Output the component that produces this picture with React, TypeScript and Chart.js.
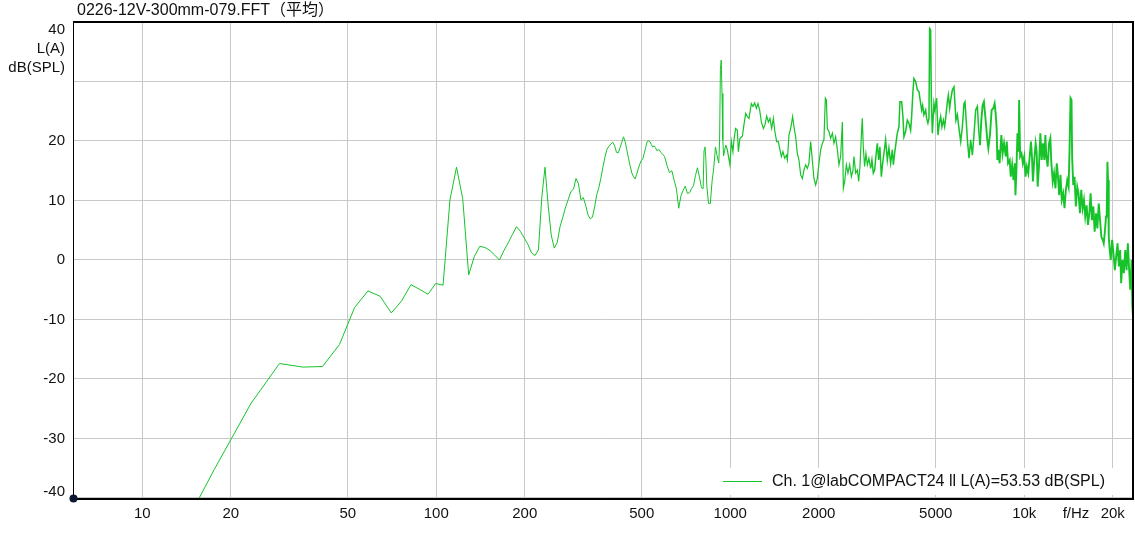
import { useEffect, useRef } from 'react';
import { Chart, registerables } from 'chart.js';

Chart.register(...registerables);

const titleText = '0226-12V-300mm-079.FFT（平均）';
const legendLabel = 'Ch. 1@labCOMPACT24 ll L(A)=53.53 dB(SPL)';
const yUnitLines = ['L(A)', 'dB(SPL)'];
const xUnitLabel = 'f/Hz';
const xUnitAt = 15000;

const xTickValues = [10, 20, 50, 100, 200, 500, 1000, 2000, 5000, 10000, 20000];
const xTickLabels = ['10', '20', '50', '100', '200', '500', '1000', '2000', '5000', '10k', '20k'];
const yTickValues = [-40, -30, -20, -10, 0, 10, 20, 30, 40];
const yTickLabels = ['-40', '-30', '-20', '-10', '0', '10', '20', '', '40'];

const xMin = 5.859375;
const xMax = 23437.5;
const yMin = -40.17;
const yMax = 40;

const freqHz = [
  11.72, 17.58, 23.44, 29.3, 35.16, 41.02, 46.88, 52.73, 58.59, 64.45,
  70.31, 76.17, 82.03, 87.89, 93.75, 99.61, 105.47, 111.33, 117.19, 123.05,
  128.91, 134.77, 140.63, 146.48, 152.34, 158.2, 164.06, 169.92, 175.78, 181.64,
  187.5, 193.36, 199.22, 205.08, 210.94, 216.8, 222.66, 228.52, 234.38, 240.23,
  246.09, 251.95, 257.81, 263.67, 269.53, 275.39, 281.25, 287.11, 292.97, 298.83,
  304.69, 310.55, 316.41, 322.27, 328.13, 333.98, 339.84, 345.7, 351.56, 357.42,
  363.28, 369.14, 375, 380.86, 386.72, 392.58, 398.44, 404.3, 410.16, 416.02,
  421.88, 427.73, 433.59, 439.45, 445.31, 451.17, 457.03, 462.89, 468.75, 474.61,
  480.47, 486.33, 492.19, 498.05, 503.91, 509.77, 515.63, 521.48, 527.34, 533.2,
  539.06, 544.92, 550.78, 556.64, 562.5, 568.36, 574.22, 580.08, 585.94, 597.66,
  609.38, 621.09, 632.81, 644.53, 656.25, 667.97, 679.69, 691.41, 703.13, 714.84,
  726.56, 738.28, 750, 761.72, 773.44, 785.16, 796.88, 802.73, 808.59, 814.45,
  820.31, 826.17, 832.03, 843.75, 855.47, 867.19, 878.91, 890.63, 902.34, 914.06,
  919.92, 925.78, 931.64, 937.5, 943.36, 949.22, 965, 977.5, 997.6, 1008.7,
  1021.4, 1029.4, 1043.2, 1057.2, 1065.5, 1078.9, 1099.5, 1113.3, 1128.3, 1143.4,
  1157.8, 1179.8, 1194.7, 1210.8, 1227, 1242.5, 1259.2, 1276, 1296.2, 1312.5,
  1330.1, 1348, 1364.9, 1383.2, 1401.8, 1416.2, 1438.5, 1457, 1476, 1492,
  1511, 1531, 1552, 1564, 1584, 1605, 1630, 1647, 1669, 1691,
  1713, 1736, 1759, 1781, 1805, 1829, 1852, 1877, 1902, 1926,
  1952, 1978, 2003, 2030, 2057, 2083, 2106, 2123, 2139, 2166,
  2195, 2225, 2253, 2283, 2314, 2343, 2374, 2406, 2425, 2450,
  2483, 2514, 2548, 2582, 2615, 2635, 2671, 2707, 2734, 2762,
  2798, 2813, 2835, 2864, 2894, 2926, 2962, 3002, 3033, 3067,
  3098, 3140, 3164, 3197, 3229, 3265, 3299, 3332, 3377, 3422,
  3465, 3512, 3559, 3587, 3623, 3661, 3701, 3748, 3777, 3828,
  3867, 3897, 3950, 4003, 4053, 4107, 4140, 4182, 4215, 4272,
  4329, 4384, 4442, 4477, 4512, 4558, 4620, 4656, 4703, 4741,
  4767, 4804, 4830, 4869, 4930, 4969, 5035, 5087, 5143, 5196,
  5249, 5307, 5361, 5403, 5476, 5519, 5576, 5620, 5696, 5767,
  5812, 5858, 5923, 5998, 6079, 6160, 6238, 6287, 6356, 6406,
  6487, 6573, 6661, 6745, 6836, 6928, 6999, 7070, 7145, 7218,
  7292, 7390, 7489, 7548, 7644, 7746, 7850, 7930, 7993, 8056,
  8100, 8163, 8247, 8358, 8443, 8536, 8650, 8719, 8808, 8926,
  8996, 9096, 9189, 9290, 9334, 9407, 9481, 9563, 9608, 9684,
  9790, 9890, 10000, 10102, 10206, 10318, 10424, 10539, 10622, 10705,
  10815, 10934, 11022, 11108, 11221, 11345, 11461, 11578, 11705, 11797,
  11890, 12011, 12144, 12269, 12365, 12501, 12629, 12768, 12899, 13000,
  13147, 13281, 13417, 13566, 13706, 13858, 14000, 14154, 14258, 14370,
  14482, 14550, 14676, 14826, 14978, 15144, 15298, 15468, 15626, 15798,
  15960, 16124, 16302, 16468, 16650, 16820, 16992, 17180, 17356, 17548,
  17726, 17922, 18106, 18292, 18492, 18638, 18784, 18978, 19080, 19186,
  19276, 19384, 19536, 19688, 19906, 20110, 20332, 20540, 20766, 20980,
  21194, 21360, 21596, 21818, 22058, 22286, 22510, 22708, 22940, 23190,
  23320, 23437,
];

const levelDb = [
  -51.7, -35.2, -24.1, -17.4, -18.0, -17.9, -14.2, -8.0, -5.2, -6.1,
  -8.9, -6.9, -4.15, -4.95, -5.75, -3.95, -4.25, 10.1, 15.6, 10.3,
  -2.5, 0.6, 2.3, 2.1, 1.6, 0.8, 0.0, 1.6, 2.9, 4.3,
  5.6, 4.8, 3.7, 2.6, 1.2, 0.75, 1.7, 10.5, 15.6, 9.2,
  4.2, 2.0, 2.9, 5.6, 7.2, 8.9, 10.2, 11.5, 11.9, 13.7,
  12.8, 10.1, 10.5, 9.2, 7.6, 6.9, 7.2, 8.9, 11.0, 12.2,
  13.8, 15.7, 17.3, 18.6, 19.1, 19.5, 19.8, 19.2, 18.1, 18.0,
  18.9, 19.8, 20.7, 19.8, 18.4, 17.0, 15.7, 14.6, 14.0, 13.6,
  14.4, 15.3, 16.1, 16.7, 17.0, 17.9, 18.9, 19.9, 20.0, 19.9,
  19.4, 19.0, 19.2, 18.9, 18.4, 18.5, 18.5, 18.1, 17.9, 17.4,
  15.9, 14.7, 15.0, 13.4, 11.9, 8.7, 10.8, 11.7, 12.4, 11.2,
  11.3, 12.0, 12.5, 14.2, 15.5, 14.0, 12.3, 12.0, 12.0, 18.5,
  19.0, 17.0, 12.5, 9.5, 9.5, 13.2, 15.5, 19.0, 17.5, 16.3,
  20.0, 32.0, 33.6, 28.0, 20.2, 17.5, 19.3, 18.5, 16.0, 19.9,
  18.2, 20.2, 22.1, 21.8, 18.2, 20.45, 20.8, 22.7, 24.65, 24.1,
  23.8, 26.3, 25.8, 26.4, 25.5, 26.3, 25.2, 23.2, 22.1, 22.7,
  24.2, 23.2, 23.8, 22.1, 23.8, 21.8, 19.9, 19.9, 18.5, 17.4,
  18.2, 17.1, 17.6, 16.8, 21.0, 22.1, 24.1, 22.4, 20.7, 17.9,
  16.8, 14.3, 13.7, 15.1, 16.0, 15.4, 16.25, 19.9, 16.8, 13.7,
  12.6, 13.7, 16.25, 18.5, 19.6, 20.2, 27.2, 26.9, 22.1, 21.6,
  20.45, 21.3, 19.6, 20.7, 18.5, 16.0, 17.4, 23.2, 12.05, 13.2,
  16.0, 14.6, 16.0, 14.0, 15.1, 17.4, 14.6, 15.1, 13.2, 15.7,
  21.8, 23.8, 19.0, 15.7, 17.9, 16.0, 17.1, 15.4, 16.8, 14.6,
  15.1, 18.2, 19.6, 16.8, 19.0, 14.0, 16.25, 17.9, 20.2, 16.8,
  18.8, 16.25, 18.5, 16.0, 17.9, 19.6, 21.3, 22.4, 26.6, 26.6,
  24.1, 20.7, 21.6, 23.5, 23.0, 21.8, 24.1, 28.3, 30.5, 30.0,
  28.6, 28.3, 26.3, 25.2, 26.0, 24.4, 25.2, 23.8, 23.0, 23.8,
  38.9, 38.65, 26.9, 21.3, 26.3, 25.2, 27.2, 21.0, 23.0, 24.1,
  22.4, 23.5, 22.4, 23.8, 26.6, 27.7, 25.5, 26.9, 28.6, 29.1,
  26.3, 23.5, 24.4, 22.1, 19.9, 22.4, 26.3, 26.6, 23.0, 20.2,
  17.1, 20.2, 17.6, 21.0, 25.2, 25.8, 21.8, 19.3, 23.5, 26.0,
  26.6, 23.5, 20.2, 18.8, 21.0, 25.2, 25.5, 26.3, 24.65, 22.1,
  16.8, 18.5, 16.25, 21.0, 17.9, 19.6, 17.4, 19.9, 16.25, 16.8,
  14.0, 16.0, 13.4, 16.25, 10.9, 15.1, 21.3, 18.2, 26.9, 17.4,
  17.9, 16.25, 17.4, 14.0, 15.7, 14.6, 17.1, 19.9, 17.4, 13.2,
  16.8, 19.6, 18.2, 12.3, 15.7, 21.3, 16.8, 19.6, 16.8, 21.0,
  17.4, 15.7, 19.6, 20.45, 16.25, 13.2, 14.6, 12.05, 16.25, 14.6,
  10.9, 14.3, 10.1, 11.2, 8.7, 11.8, 13.4, 12.3, 18.5, 27.2,
  26.9, 17.4, 12.6, 14.0, 9.0, 12.3, 11.2, 7.85, 11.8, 8.7,
  10.1, 7.3, 9.2, 5.9, 7.85, 11.2, 6.7, 9.0, 4.76, 7.85,
  5.3, 9.5, 6.7, 3.9, 3.4, 2.8, 4.5, 7.3, 7.85, 16.5,
  13.4, 3.9, 1.68, 0, 3.4, 1.1, -1.7, 0.56, 2.8, -1.1,
  1.68, -3.9, 0, -2.2, 1.68, -1.7, 2.8, -1.1, -5.0, 0,
  -7.8, -9.5,
];

const LINE_COLOR = '#16c42a';
const GRID_COLOR = '#c8c8c8';
const TEXT_COLOR = '#111111';
const FONT_FAMILY = "'Liberation Sans', Arial, 'Noto Sans CJK JP', sans-serif";

const decorPlugin = {
  id: 'decor',
  beforeDraw(chart: any) {
    const { ctx, width, height } = chart;
    ctx.save();
    ctx.fillStyle = '#ffffff';
    ctx.fillRect(0, 0, width, height);
    ctx.restore();
  },
  afterDraw(chart: any) {
    const { ctx, chartArea, scales } = chart;
    const { left, top, right, bottom } = chartArea;
    const xs = scales.x;
    const ys = scales.y;
    ctx.save();

    // legend box
    const lgRight = right - 17;
    const lgLeft = right - 421;
    const lgY = bottom - 18;
    ctx.fillStyle = '#ffffff';
    ctx.fillRect(lgLeft, lgY - 13, lgRight - lgLeft, 27);
    ctx.strokeStyle = LINE_COLOR;
    ctx.lineWidth = 1;
    ctx.beginPath();
    ctx.moveTo(lgLeft + 11, lgY + 0.5);
    ctx.lineTo(lgLeft + 50, lgY + 0.5);
    ctx.stroke();
    ctx.fillStyle = TEXT_COLOR;
    ctx.font = `16px ${FONT_FAMILY}`;
    ctx.textAlign = 'left';
    ctx.textBaseline = 'middle';
    ctx.fillText(legendLabel, lgLeft + 60, lgY + 1);

    // frame
    ctx.fillStyle = '#000000';
    ctx.fillRect(left - 1, top - 1, right - left + 1, 2);
    ctx.fillRect(right - 1, top - 1, 2, bottom - top + 2);
    ctx.fillRect(left - 1, bottom - 1, right - left + 2, 2);
    ctx.fillRect(left - 1, top - 1, 1, bottom - top + 1);

    // origin dot
    ctx.fillStyle = '#0c1730';
    ctx.beginPath();
    ctx.arc(left - 0.5, bottom - 0.5, 4, 0, Math.PI * 2);
    ctx.fill();

    // y labels
    ctx.fillStyle = TEXT_COLOR;
    ctx.font = `15px ${FONT_FAMILY}`;
    ctx.textAlign = 'right';
    ctx.textBaseline = 'middle';
    yTickValues.forEach((v, i) => {
      const lbl = yTickLabels[i];
      if (!lbl) return;
      let py = ys.getPixelForValue(v);
      py = Math.max(top + 8, Math.min(bottom - 7, py));
      ctx.fillText(lbl, left - 9, py);
    });
    yUnitLines.forEach((s, i) => {
      ctx.fillText(s, left - 9, top + 27 + i * 19);
    });

    // x labels
    ctx.textAlign = 'center';
    xTickValues.forEach((v, i) => {
      ctx.fillText(xTickLabels[i], xs.getPixelForValue(v), bottom + 15);
    });
    ctx.fillText(xUnitLabel, xs.getPixelForValue(xUnitAt), bottom + 15);

    // title
    ctx.font = `16px ${FONT_FAMILY}`;
    ctx.textAlign = 'left';
    ctx.textBaseline = 'alphabetic';
    ctx.fillText(titleText, 77, 15);

    ctx.restore();
  },
};

export default function App() {
  const canvasRef = useRef<HTMLCanvasElement | null>(null);

  useEffect(() => {
    document.body.style.margin = '0';
    const canvas = canvasRef.current;
    if (!canvas) return;
    const points = freqHz.map((f, i) => ({ x: f, y: levelDb[i] }));
    const chart = new Chart(canvas, {
      type: 'line',
      data: {
        datasets: [
          {
            label: legendLabel,
            data: points,
            borderColor: LINE_COLOR,
            borderWidth: 1,
            pointRadius: 0,
            fill: false,
            tension: 0,
            segment: {
              borderWidth: (c: any) => {
                const f = c.p0.parsed.x;
                if (f > 7000) return 1.9;
                if (f > 3000) return 1.5;
                if (f > 950) return 1.2;
                return 1;
              },
            },
          },
        ],
      },
      options: {
        animation: false,
        responsive: false,
        maintainAspectRatio: false,
        layout: { padding: { left: 74, right: 2, top: 22, bottom: 34 } },
        plugins: {
          legend: { display: false },
          title: { display: false },
          tooltip: { enabled: false },
        },
        scales: {
          x: {
            type: 'logarithmic',
            min: xMin,
            max: xMax,
            afterBuildTicks: (s: any) => {
              s.ticks = xTickValues.map((v) => ({ value: v }));
            },
            ticks: { display: false },
            grid: { color: GRID_COLOR, lineWidth: 1, drawTicks: false },
            border: { display: false },
          },
          y: {
            type: 'linear',
            min: yMin,
            max: yMax,
            afterBuildTicks: (s: any) => {
              s.ticks = yTickValues.map((v) => ({ value: v }));
            },
            ticks: { display: false },
            grid: { color: GRID_COLOR, lineWidth: 1, drawTicks: false },
            border: { display: false },
          },
        },
      },
      plugins: [decorPlugin],
    } as any);
    return () => chart.destroy();
  }, []);

  return (
    <div style={{ width: 1135, height: 533 }}>
      <canvas ref={canvasRef} width={1135} height={533} style={{ display: 'block' }} />
    </div>
  );
}
